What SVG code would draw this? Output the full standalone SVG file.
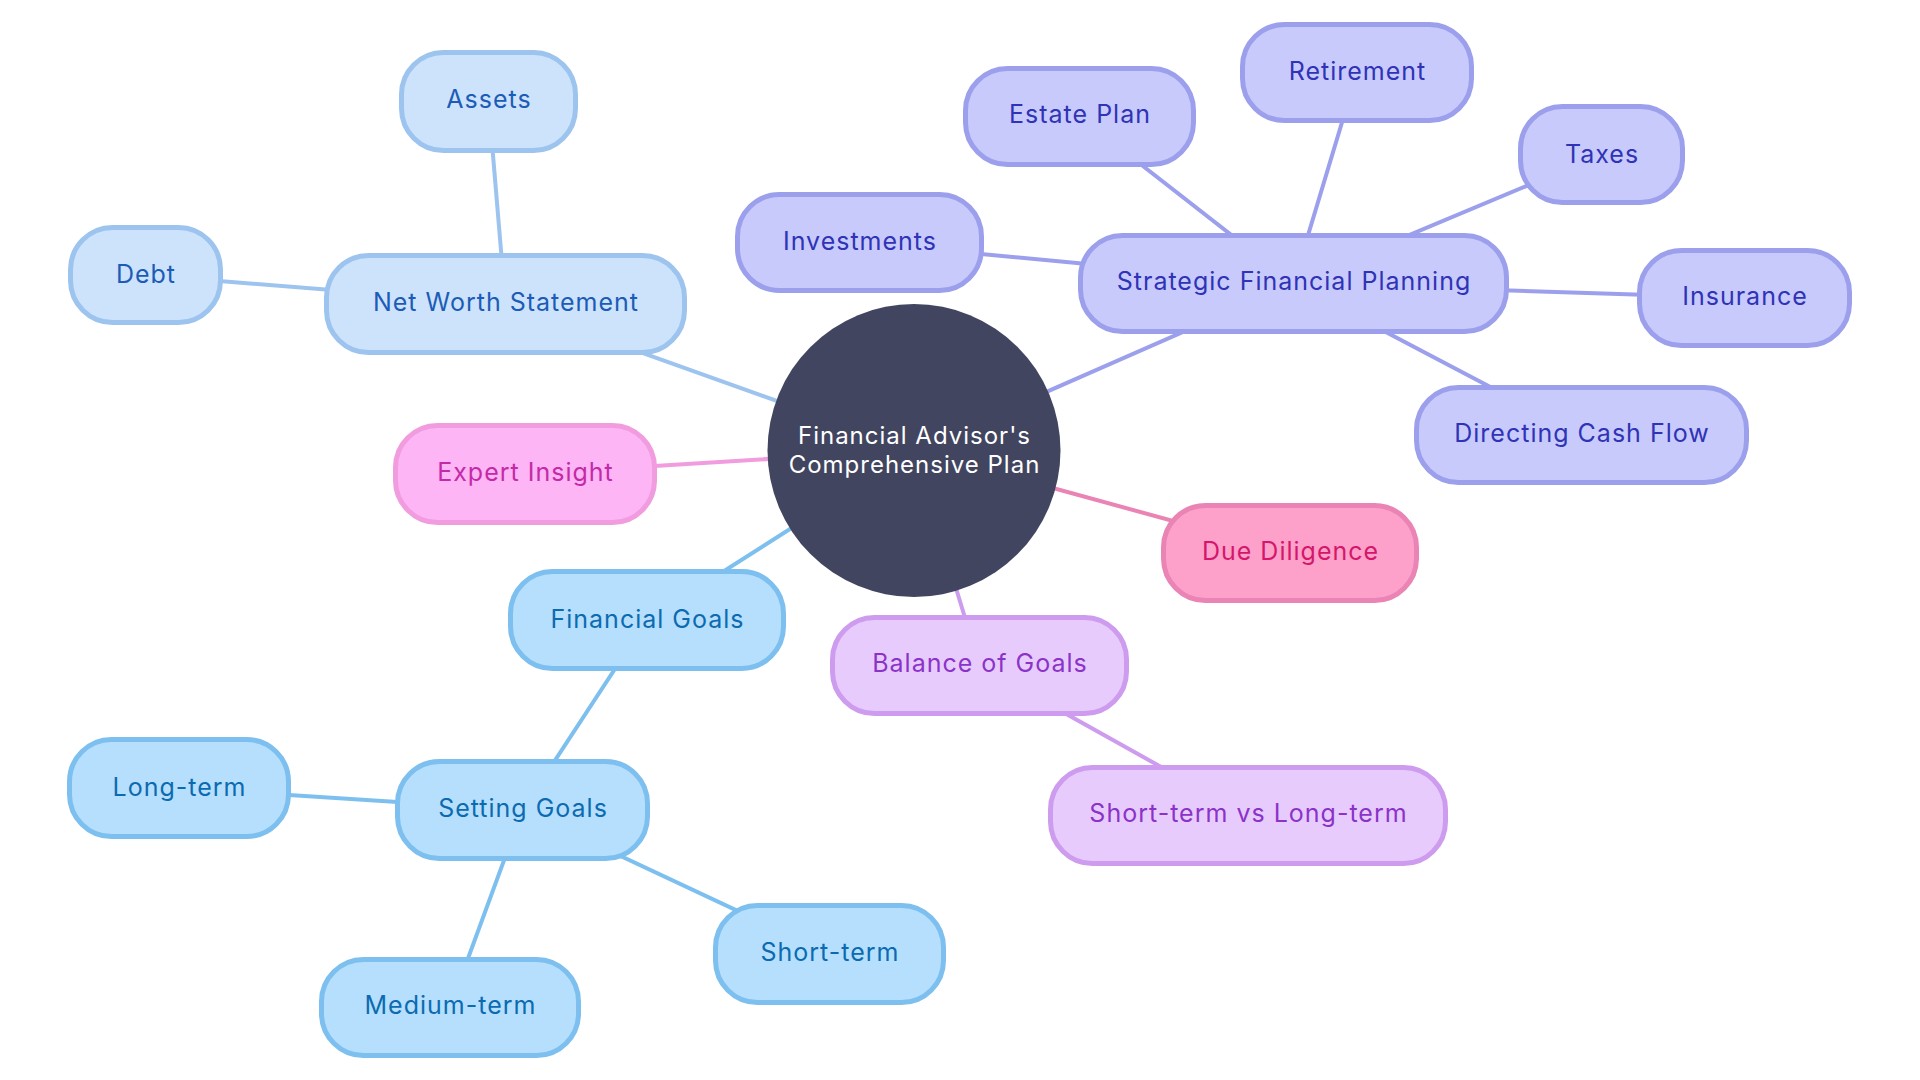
<svg xmlns="http://www.w3.org/2000/svg" width="1920" height="1080" viewBox="0 0 1920 1080">
<style>
text{font-family:Inter,"Noto Sans","Liberation Sans",sans-serif;font-size:25px;text-anchor:middle;letter-spacing:1px}
.n rect{stroke-width:5}
.c line{stroke-width:4;stroke-linecap:round}
.b1 rect{fill:#CCE3FB;stroke:#9DC4EE}.b1 text{fill:#1C5CB7}
.b2 rect{fill:#B5DFFD;stroke:#7DBFEE}.b2 text{fill:#0C6BB0}
.b3 rect{fill:#C8CAFC;stroke:#9C9FEC}.b3 text{fill:#2F33B5}
.b4 rect{fill:#FDB5F5;stroke:#F09CDE}.b4 text{fill:#C42AA7}
.b5 rect{fill:#FDA1CB;stroke:#E984B5}.b5 text{fill:#D4176A}
.b6 rect{fill:#E8CBFD;stroke:#CE9CEE}.b6 text{fill:#8B33C8}
</style>
<rect width="1920" height="1080" fill="#fff"/>
<g id="connectors" class="c">
<line x1="914" y1="450" x2="505.5" y2="304" stroke="#9DC4EE"/>
<line x1="505.5" y1="304" x2="488.5" y2="101.5" stroke="#9DC4EE"/>
<line x1="505.5" y1="304" x2="145.5" y2="275" stroke="#9DC4EE"/>
<line x1="914" y1="450" x2="525" y2="474" stroke="#F09CDE"/>
<line x1="914" y1="450" x2="647" y2="620" stroke="#7DBFEE"/>
<line x1="647" y1="620" x2="522.5" y2="810" stroke="#7DBFEE"/>
<line x1="522.5" y1="810" x2="179" y2="788" stroke="#7DBFEE"/>
<line x1="522.5" y1="810" x2="450" y2="1007.5" stroke="#7DBFEE"/>
<line x1="522.5" y1="810" x2="829.5" y2="954" stroke="#7DBFEE"/>
<line x1="914" y1="450" x2="979.5" y2="665.5" stroke="#CE9CEE"/>
<line x1="979.5" y1="665.5" x2="1248" y2="815.5" stroke="#CE9CEE"/>
<line x1="914" y1="450" x2="1290" y2="553" stroke="#E984B5"/>
<line x1="914" y1="450" x2="1293.5" y2="283.5" stroke="#9C9FEC"/>
<line x1="1293.5" y1="283.5" x2="859.5" y2="242.5" stroke="#9C9FEC"/>
<line x1="1293.5" y1="283.5" x2="1079.5" y2="116.5" stroke="#9C9FEC"/>
<line x1="1293.5" y1="283.5" x2="1357" y2="72.5" stroke="#9C9FEC"/>
<line x1="1293.5" y1="283.5" x2="1601.5" y2="154.5" stroke="#9C9FEC"/>
<line x1="1293.5" y1="283.5" x2="1744.5" y2="298" stroke="#9C9FEC"/>
<line x1="1293.5" y1="283.5" x2="1581.5" y2="435" stroke="#9C9FEC"/>
</g>
<g id="root">
<circle cx="914" cy="450.5" r="146.5" fill="#414560"/>
<text x="914.5" y="444" fill="#fff" style="font-size:24px">Financial Advisor's</text>
<text x="914.5" y="473" fill="#fff" style="font-size:24px">Comprehensive Plan</text>
</g>
<g id="net-worth" class="n b1"><rect x="326.5" y="255.5" width="358" height="97" rx="42"/><text x="506" y="311">Net Worth Statement</text></g>
<g id="assets" class="n b1"><rect x="401.5" y="52.5" width="174" height="98" rx="42"/><text x="489" y="108">Assets</text></g>
<g id="debt" class="n b1"><rect x="70.5" y="227.5" width="150" height="95" rx="42"/><text x="146" y="283">Debt</text></g>
<g id="expert-insight" class="n b4"><rect x="395.5" y="425.5" width="259" height="97" rx="42"/><text x="525.5" y="481">Expert Insight</text></g>
<g id="financial-goals" class="n b2"><rect x="510.5" y="571.5" width="273" height="97" rx="42"/><text x="647.5" y="628">Financial Goals</text></g>
<g id="setting-goals" class="n b2"><rect x="397.5" y="761.5" width="250" height="97" rx="42"/><text x="523" y="817">Setting Goals</text></g>
<g id="long-term" class="n b2"><rect x="69.5" y="739.5" width="219" height="97" rx="42"/><text x="179.5" y="796">Long-term</text></g>
<g id="medium-term" class="n b2"><rect x="321.5" y="959.5" width="257" height="96" rx="42"/><text x="450.5" y="1014">Medium-term</text></g>
<g id="short-term" class="n b2"><rect x="715.5" y="905.5" width="228" height="97" rx="42"/><text x="830" y="961">Short-term</text></g>
<g id="balance-of-goals" class="n b6"><rect x="832.5" y="617.5" width="294" height="96" rx="42"/><text x="980" y="672">Balance of Goals</text></g>
<g id="short-vs-long" class="n b6"><rect x="1050.5" y="767.5" width="395" height="96" rx="42"/><text x="1248.5" y="822">Short-term vs Long-term</text></g>
<g id="due-diligence" class="n b5"><rect x="1163.5" y="505.5" width="253" height="95" rx="42"/><text x="1290.5" y="560">Due Diligence</text></g>
<g id="strategic-planning" class="n b3"><rect x="1080.5" y="235.5" width="426" height="96" rx="42"/><text x="1294" y="290">Strategic Financial Planning</text></g>
<g id="investments" class="n b3"><rect x="737.5" y="194.5" width="244" height="96" rx="42"/><text x="860" y="250">Investments</text></g>
<g id="estate-plan" class="n b3"><rect x="965.5" y="68.5" width="228" height="96" rx="42"/><text x="1080" y="123">Estate Plan</text></g>
<g id="retirement" class="n b3"><rect x="1242.5" y="24.5" width="229" height="96" rx="42"/><text x="1357.5" y="80">Retirement</text></g>
<g id="taxes" class="n b3"><rect x="1520.5" y="106.5" width="162" height="96" rx="42"/><text x="1602" y="163">Taxes</text></g>
<g id="insurance" class="n b3"><rect x="1639.5" y="250.5" width="210" height="95" rx="42"/><text x="1745" y="305">Insurance</text></g>
<g id="directing-cash-flow" class="n b3"><rect x="1416.5" y="387.5" width="330" height="95" rx="42"/><text x="1582" y="442">Directing Cash Flow</text></g>
</svg>
